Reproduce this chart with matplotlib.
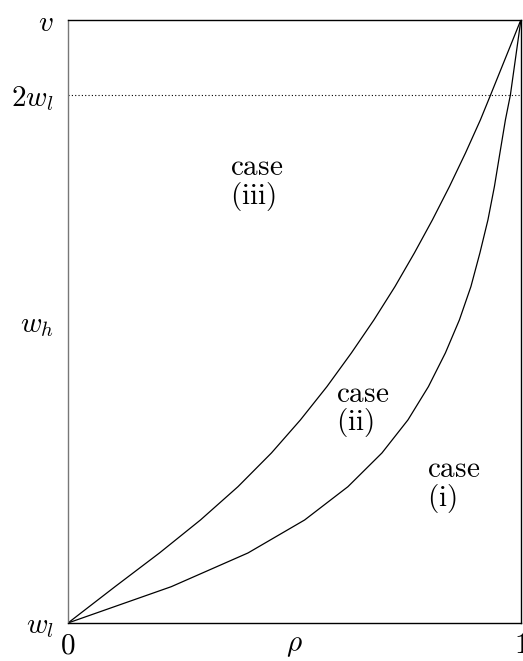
import numpy as np
from matplotlib import pyplot as plt

plt.rcParams['mathtext.fontset'] = 'cm'
plt.rcParams['font.family'] = 'serif'

# upper curve (boundary between case (iii) and case (ii))
upper_x = [0.0, 0.1038, 0.2020, 0.2925, 0.3753, 0.4492, 0.5132, 0.5717, 0.6258,
           0.6755, 0.7219, 0.7649, 0.8046, 0.8422, 0.8775, 0.9106, 0.9331, 1.0]
upper_y = [0.0, 0.0602, 0.1161, 0.1708, 0.2260, 0.2819, 0.3367, 0.3919, 0.4478,
           0.5025, 0.5577, 0.6136, 0.6683, 0.7236, 0.7790, 0.8342, 0.8756, 1.0]

# lower curve (boundary between case (ii) and case (i))
lower_x = [0.0, 0.2280, 0.3974, 0.5225, 0.6181, 0.6932, 0.7506, 0.7958, 0.8333,
           0.8642, 0.8896, 0.9095, 0.9272, 0.9415, 0.9536, 0.9658, 0.9768, 1.0]
lower_y = [0.0, 0.0602, 0.1161, 0.1708, 0.2260, 0.2819, 0.3367, 0.3919, 0.4478,
           0.5025, 0.5577, 0.6136, 0.6683, 0.7236, 0.7790, 0.8342, 0.8756, 1.0]

yticks = [0.0, 0.5, 0.876, 1.0]
ylabels = [r'$w_l$', r'$w_h$', r'$2w_l$', r'$v$']
xticks = [0.0, 0.5, 1.0]
xlabels = [r'$0$', r'$\rho$', r'$1$']

cases = ['iii', 'ii', 'i']
case_x = [0.358, 0.592, 0.792]
case_y = [0.729, 0.354, 0.229]

fig = plt.figure(figsize=(5.23, 6.61), dpi=100)
ax = fig.add_axes([0.130, 0.0575, 0.866, 0.9125])

ax.plot(upper_x, upper_y, color='black', lw=0.9)
ax.plot(lower_x, lower_y, color='black', lw=0.9)
ax.axhline(0.876, color='black', lw=0.8, ls=(0, (1, 2)))

for c, x, y in zip(cases, case_x, case_y):
    ax.text(x, y, r'$\mathrm{case}$' + '\n' + r'$(\mathrm{' + c + '})$',
            fontsize=21, ha='left', va='center', linespacing=0.95)

ax.set_xlim(0, 1)
ax.set_ylim(0, 1)
ax.set_xticks(xticks)
ax.set_xticklabels(xlabels, fontsize=21)
ax.set_yticks(yticks)
ax.set_yticklabels(ylabels, fontsize=21)
ax.tick_params(length=0, pad=6)
ax.tick_params(axis='y', pad=10)
for s in ax.spines.values():
    s.set_linewidth(1.0)
ax.spines['left'].set_color('#777777')

fig.savefig('out.png', dpi=100)
